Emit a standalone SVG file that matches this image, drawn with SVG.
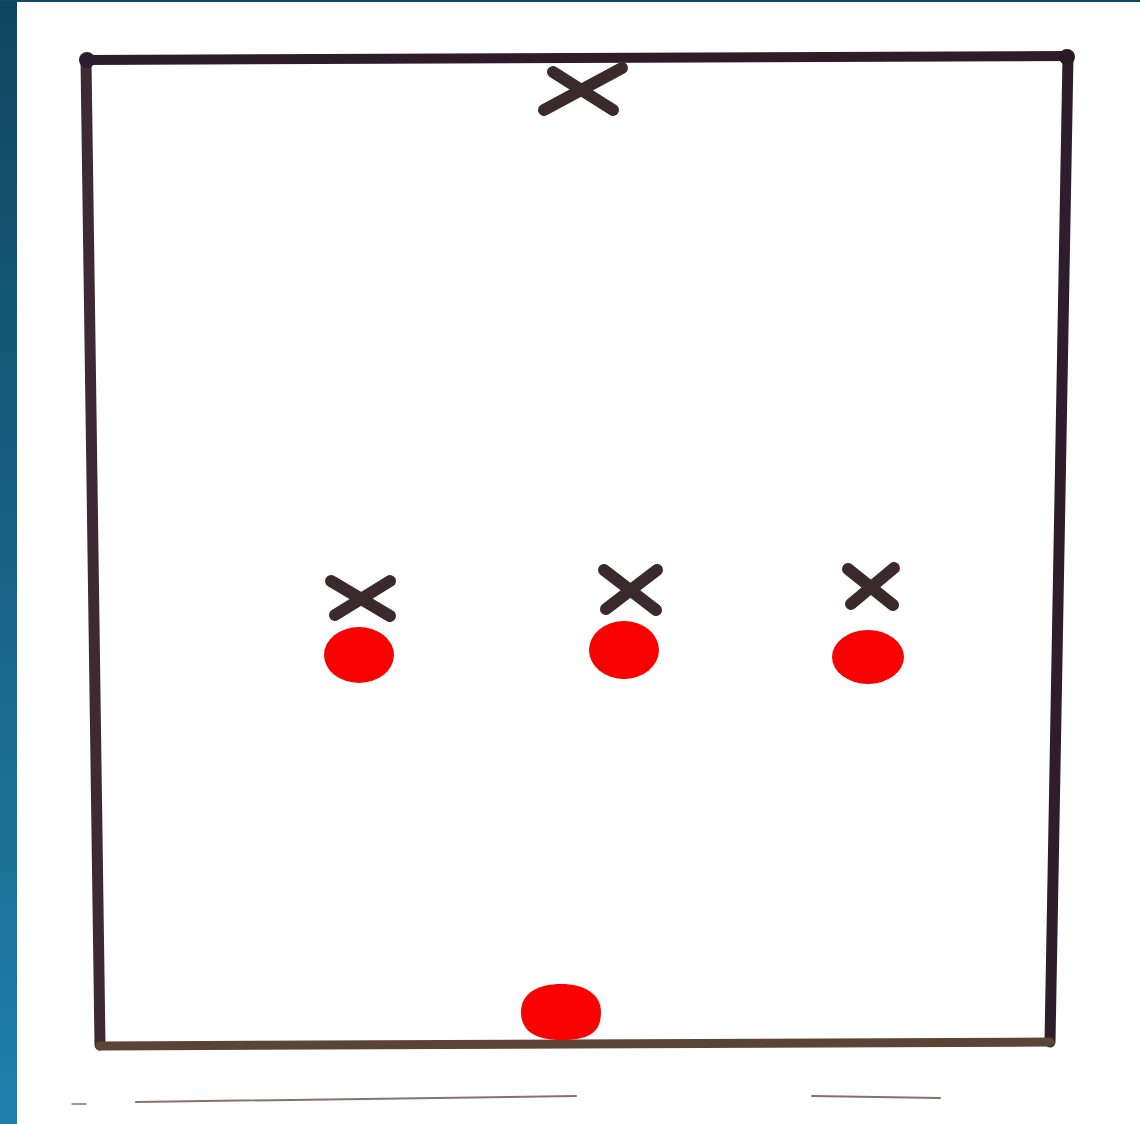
<svg xmlns="http://www.w3.org/2000/svg" width="1140" height="1124" viewBox="0 0 1140 1124">
<defs>
<linearGradient id="bar" x1="0" y1="0" x2="0" y2="1">
<stop offset="0" stop-color="#0e4660"/>
<stop offset="1" stop-color="#2080ab"/>
</linearGradient>
<style>
.frame{fill:none;stroke-linecap:round;stroke-linejoin:round}
.x{stroke:#3b2a2c;stroke-width:12;stroke-linecap:round;fill:none}
.ball{fill:#fb0202}
</style>
</defs>
<rect x="0" y="0" width="1140" height="1124" fill="#ffffff"/>
<rect x="0" y="0" width="17" height="1124" fill="url(#bar)"/>
<rect x="0" y="0" width="1140" height="2" fill="#0f4a62"/>
<g id="frame">
<path class="frame" d="M86 60 L1068 56" stroke="#2e1d28" stroke-width="10"/>
<path class="frame" d="M1068 56 L1050 1042" stroke="#2e1d2a" stroke-width="11"/>
<path class="frame" d="M86 60 L100 1045" stroke="#3e2a34" stroke-width="11"/>
<path class="frame" d="M100 1046 L1050 1042" stroke="#5a4436" stroke-width="9"/>
<circle cx="87" cy="60" r="8" fill="#2e1d30"/>
<circle cx="1067" cy="57" r="8" fill="#2a1a26"/>
</g>
<g id="underline" stroke="#8a7068" stroke-linecap="round" fill="none">
<path d="M136 1102 L576 1096" stroke-width="2"/>
<path d="M812 1096 L940 1098" stroke-width="2"/>
<path d="M72 1104 L86 1104" stroke-width="1.5"/>
</g>
<g id="x-top">
<path class="x" d="M553 72 L613 110"/>
<path class="x" d="M622 68 L544 110"/>
</g>
<g id="x-left">
<path class="x" d="M331 581 L390 616"/>
<path class="x" d="M390 581 L335 615"/>
</g>
<g id="x-mid">
<path class="x" d="M604 570 L656 610"/>
<path class="x" d="M657 570 L606 609"/>
</g>
<g id="x-right">
<path class="x" d="M848 569 L893 605"/>
<path class="x" d="M894 568 L851 604"/>
</g>
<g id="ball-left"><ellipse class="ball" cx="359" cy="655" rx="35" ry="28"/></g>
<g id="ball-mid"><ellipse class="ball" cx="624" cy="650" rx="35" ry="29"/></g>
<g id="ball-right"><ellipse class="ball" cx="868" cy="657" rx="36" ry="27"/></g>
<g id="ball-bottom"><path class="ball" d="M521 1012 C521 992 540 984 561 984 C584 984 601 994 601 1012 C601 1032 590 1040 561 1040 C534 1040 521 1030 521 1012 Z"/></g>
</svg>
